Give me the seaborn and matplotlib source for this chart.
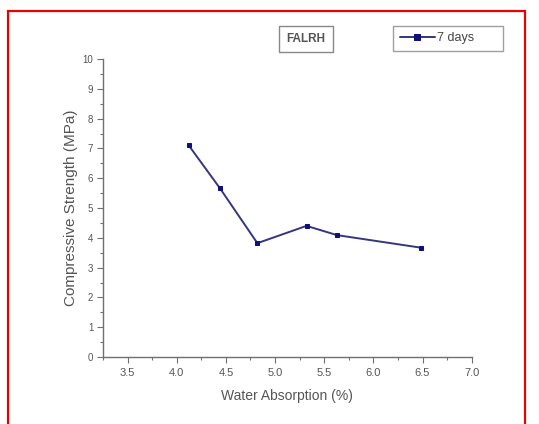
import matplotlib
matplotlib.use("Agg")
import matplotlib.pyplot as plt
import seaborn as sns
import pandas as pd
import numpy as np
from matplotlib.patches import Rectangle
from matplotlib.ticker import MultipleLocator

water_absorption = [4.12, 4.44, 4.82, 5.32, 5.63, 6.48]
strength_7days = [7.11, 5.66, 3.82, 4.40, 4.09, 3.67]
series_name = "7 days"
box_label = "FALRH"

sns.set_style("ticks")
plt.rcParams['font.family'] = ['Liberation Sans', 'DejaVu Sans']

df = pd.DataFrame({"x": water_absorption, "y": strength_7days, "s": series_name})

fig = plt.figure(figsize=(5.39, 4.24), dpi=100)
ax = fig.add_axes([103/539, 1-357/424, (471.7-103)/539, (357-59)/424])

line_col = "#353580"
sns.lineplot(data=df, x="x", y="y", hue="s", palette=[line_col], marker="s",
             markersize=3.2, markerfacecolor="#10107a", markeredgecolor="#10107a",
             linewidth=1.4, ax=ax, sort=False)

ax.set_xlim(3.25, 7.0)
ax.set_ylim(0, 10)
ax.xaxis.set_minor_locator(MultipleLocator(0.25))
ax.yaxis.set_major_locator(MultipleLocator(1))
ax.yaxis.set_minor_locator(MultipleLocator(0.5))
ax.set_xticks(np.arange(3.5, 7.01, 0.5))
ax.set_xticklabels([f"{v:.1f}" for v in np.arange(3.5, 7.01, 0.5)])

sns.despine(ax=ax)
gray = "#707070"
for sp in ("left", "bottom"):
    ax.spines[sp].set_color(gray)
    ax.spines[sp].set_linewidth(1.0)
ax.tick_params(axis="both", which="major", length=4, width=0.8, color=gray,
               labelcolor="#555555", pad=3)
ax.tick_params(axis="x", which="major", labelsize=8, pad=4)
ax.tick_params(axis="y", which="major", labelsize=7)
ax.tick_params(axis="both", which="minor", length=2, width=0.8, color=gray)

ax.set_xlabel("Water Absorption (%)", fontsize=10, color="#555555", labelpad=8)
ax.set_ylabel("Compressive Strength (MPa)", fontsize=11, color="#555555", labelpad=3)

leg = ax.legend(loc="center", mode="expand",
                bbox_to_anchor=(393/539, 1-50/424, 110/539, 23/424),
                bbox_transform=fig.transFigure, fancybox=False, frameon=True,
                edgecolor="#888888", fontsize=9, handlelength=2.8,
                borderpad=0.55, handletextpad=0.2, borderaxespad=0)
leg.get_frame().set_linewidth(1.0)
for t in leg.get_texts():
    t.set_color("#444444")
leg_handle = leg.legend_handles[0] if hasattr(leg, "legend_handles") else leg.legendHandles[0]
leg_handle.set_markersize(4)

fig.text(306/539, 1-39/424, box_label, ha="center", va="center", fontsize=8.5,
         fontweight="bold", color="#555555",
         bbox=dict(boxstyle="square,pad=0.6", facecolor="white", edgecolor="#888888", linewidth=1.0))

fig.patches.append(Rectangle((7.6/539, -0.2), (525-7.6)/539, 1.2 - 11/424,
                             transform=fig.transFigure, fill=False,
                             edgecolor="#ee0000", linewidth=1.6, figure=fig))

fig.savefig("out.png", dpi=100)
